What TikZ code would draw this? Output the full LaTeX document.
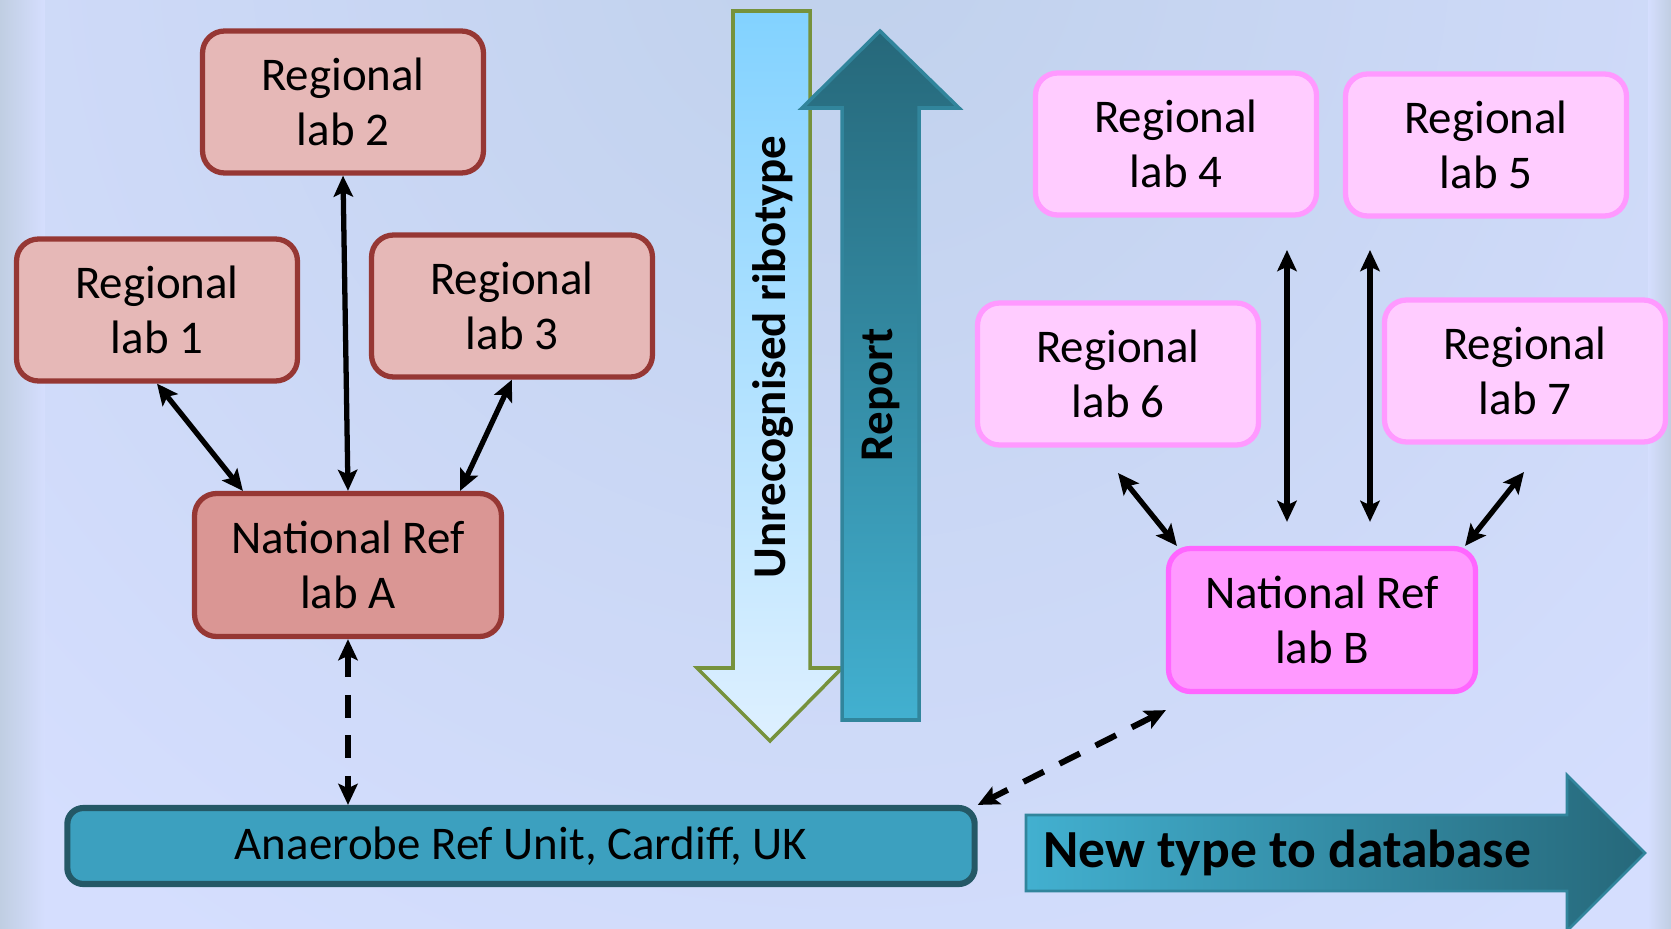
\documentclass[tikz,border=0pt]{standalone}
\usepackage{fontspec}
\setmainfont{Carlito}
\usetikzlibrary{arrows.meta}
\usetikzlibrary{calc}
\definecolor{bg1}{RGB}{213,222,254}
\definecolor{bg2}{RGB}{192,209,236}
\definecolor{bg3}{RGB}{192,206,226}
\definecolor{red1}{RGB}{230,184,183}
\definecolor{red2}{RGB}{218,150,148}
\definecolor{red3}{RGB}{150,55,52}
\definecolor{pink1}{RGB}{255,204,255}
\definecolor{pink2}{RGB}{255,153,255}
\definecolor{pink3}{RGB}{255,102,255}
\definecolor{teal1}{RGB}{66,176,208}
\definecolor{teal2}{RGB}{38,104,122}
\definecolor{teal3}{RGB}{49,133,156}
\definecolor{teal4}{RGB}{36,88,102}
\definecolor{teal5}{RGB}{60,160,191}
\definecolor{olive1}{RGB}{118,146,60}
\definecolor{sky1}{RGB}{130,210,255}
\definecolor{sky2}{RGB}{222,240,255}

\begin{document}
\begin{tikzpicture}[x=0.02cm, y=-0.02cm, font=\fontsize{26.7}{31.3}\selectfont,
  reg/.style={rectangle, rounded corners=0.44cm, draw=red3, fill=red1, line width=3pt,
    minimum width=5.62cm, minimum height=2.84cm, align=center, inner sep=0pt},
  nat/.style={reg, fill=red2, minimum width=6.14cm, minimum height=2.86cm},
  preg/.style={reg, draw=pink2, fill=pink1},
  pnat/.style={nat, draw=pink3, fill=pink2},
  anr/.style={rectangle, rounded corners=0.32cm, draw=teal4, fill=teal5, line width=3.5pt,
    minimum width=18.15cm, minimum height=1.52cm},
  big/.style={font=\fontsize{26.7}{31.3}\selectfont\bfseries, inner sep=0pt},
  link/.style={<->, line width=3pt},
  dlink/.style={link, dash pattern=on 13pt off 10pt},
  >={Stealth[length=12pt,width=11pt,inset=2.5pt]}]
\useasboundingbox (0,0) rectangle (1671,929);
% background
\fill[bg1] (0,0) rectangle (1671,929);
\begin{scope}
  \clip (0,0) rectangle (1671,929);
  \shade[inner color=bg2, outer color=bg1] (850,-60) circle (1200);
\end{scope}
\shade[left color=bg3, right color=bg1] (0,0) rectangle (45,929);
\shade[left color=bg1, right color=bg3] (1648,0) rectangle (1671,929);

% big arrows
\draw[draw=olive1, line width=2pt, top color=sky1, bottom color=sky2]
  (733,11) -- (810,11) -- (810,668) -- (842,668) -- (770,741) -- (697,668) -- (733,668) -- cycle;
\draw[draw=teal3, line width=2pt, top color=teal2, bottom color=teal1]
  (842,720) -- (842,108) -- (802,108) -- (880,31) -- (959,108) -- (919,108) -- (919,720) -- cycle;
\draw[draw=teal3, line width=1.5pt, left color=teal1, right color=teal2]
  (1026,815) -- (1567,815) -- (1567,775) -- (1645,853) -- (1567,931) -- (1567,891) -- (1026,891) -- cycle;
\node[big, rotate=90] (unrec) at (773,357) {Unrecognised ribotype};
\node[big, rotate=90] (report) at (881,395) {Report};
\node[big, anchor=west, font=\fontsize{30.5}{36}\selectfont\bfseries] (newtype) at (1043,853) {New type to database};

% labs
\node[reg] (lab2) at (343,102) {Regional\\lab 2};
\node[reg] (lab1) at (157,310) {Regional\\lab 1};
\node[reg] (lab3) at (512,306) {Regional\\lab 3};
\node[nat] (natA) at (348,565) {National Ref\\lab A};
\node[anr] (anaerobe) at (521,846) {Anaerobe Ref Unit, Cardiff, UK};
\node[preg] (lab4) at (1176,144) {Regional\\lab 4};
\node[preg] (lab5) at (1486,145) {Regional\\lab 5};
\node[preg] (lab6) at (1118,374) {Regional\\lab 6};
\node[preg] (lab7) at (1525,371) {Regional\\lab 7};
\node[pnat] (natB) at (1322,620) {National Ref\\lab B};

\coordinate (a1) at ([xshift=1.02cm]natA.north west);
\coordinate (a3) at ([xshift=-0.88cm]natA.north east);
\coordinate (t4) at (1287,250);
\coordinate (t5) at (1370,250);
\coordinate (t6) at (1118,473);
\coordinate (t7) at (1524,472);
\coordinate (b6) at ([xshift=0.22cm]natB.north west);
\coordinate (b7) at ([xshift=-0.26cm]natB.north east);
\coordinate (bB) at ([yshift=-0.32cm]natB.south west);
\foreach \from/\to in {lab1.south/a1, lab2.south/natA.north, lab3.south/a3, t6/b6, t7/b7}
  \draw[link] (\from) -- (\to);
\foreach \p in {t4,t5}
  \draw[link, shorten >=0.48cm] (\p) -- (\p |- natB.north);
\draw[dlink] (natA.south) -- (natA.south |- anaerobe.north);
\draw[dlink, line width=3.4pt] (bB) -- (anaerobe.north east);
\end{tikzpicture}
\end{document}
